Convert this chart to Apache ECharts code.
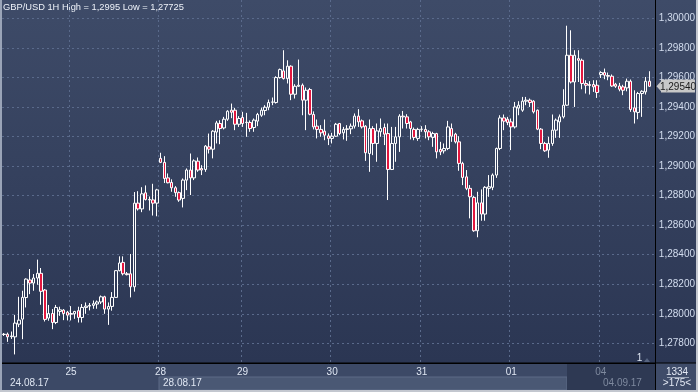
<!DOCTYPE html>
<html><head><meta charset="utf-8">
<script src="https://cdn.jsdelivr.net/npm/echarts@6.0.0/dist/echarts.min.js"></script>
<style>
html,body{margin:0;padding:0;background:#2c3852;}
#c{width:698px;height:392px;background:linear-gradient(180deg,#3e4b68 0px,#2b3653 363px,#2b3653 392px);}
</style>
</head><body><div id="c"></div>
<script>
// ---- data ----
const titleText = 'GBP/USD 1H High = 1,2995 Low = 1,27725';
const days = ['24','25','28','29','30','31','01','04'];
const months = ['08','08','08','08','08','08','09','09'];
const barsPerDay = [18,24,22,24,24,24,24,14];
const firstHour = [6,0,2,0,0,0,0,0];
const yTicks = [1.278,1.280,1.282,1.284,1.286,1.288,1.290,1.292,1.294,1.296,1.298,1.300];

const open = [
1.27860,1.27862,1.27845,1.27844,1.27930,1.27964,1.28110,1.28229,1.28208,1.28242,
1.28274,1.28161,1.27971,1.28002,1.27941,1.28016,1.28025,1.28011,1.28002,1.28000,
1.28021,1.27975,1.28043,1.28052,1.28057,1.28066,1.28080,1.28115,1.28032,1.28050,
1.28111,1.28292,1.28348,1.28271,1.28271,1.28183,1.28749,1.28710,1.28819,1.28774,
1.28771,1.28749,1.29052,1.29025,1.28920,1.28889,1.28853,1.28820,1.28781,1.28905,
1.28973,1.28920,1.29033,1.28984,1.28977,1.29130,1.29114,1.29230,1.29288,1.29258,
1.29317,1.29378,1.29378,1.29283,1.29329,1.29295,1.29295,1.29261,1.29304,1.29344,
1.29376,1.29398,1.29432,1.29430,1.29599,1.29644,1.29592,1.29676,1.29486,1.29540,
1.29547,1.29446,1.29518,1.29349,1.29270,1.29248,1.29236,1.29204,1.29187,1.29202,
1.29288,1.29225,1.29248,1.29252,1.29270,1.29338,1.29306,1.29270,1.29085,1.29254,
1.29153,1.29232,1.29261,1.29220,1.28977,1.29153,1.29198,1.29338,1.29333,1.29299,
1.29248,1.29187,1.29248,1.29248,1.29232,1.29194,1.29220,1.29112,1.29103,1.29119,
1.29254,1.29216,1.29164,1.29018,1.28927,1.28849,1.28788,1.28562,1.28751,1.28675,
1.28849,1.28856,1.28939,1.29119,1.29326,1.29317,1.29299,1.29265,1.29392,1.29378,
1.29439,1.29446,1.29439,1.29378,1.29250,1.29153,1.29108,1.29153,1.29243,1.29299,
1.29333,1.29412,1.29750,1.29569,1.29727,1.29716,1.29559,1.29552,1.29552,1.29547,
1.29619,1.29633,1.29613,1.29608,1.29554,1.29542,1.29536,1.29529,1.29574,1.29394,
1.29363,1.29491,1.29502,1.29574
];
const close = [
1.27862,1.27844,1.27850,1.27937,1.27957,1.28111,1.28235,1.28208,1.28242,1.28274,
1.28152,1.27962,1.28002,1.27941,1.28043,1.28027,1.28002,1.27991,1.27997,1.28016,
1.27975,1.28043,1.28052,1.28057,1.28068,1.28080,1.28115,1.28032,1.28050,1.28111,
1.28292,1.28344,1.28271,1.28265,1.28183,1.28749,1.28710,1.28812,1.28774,1.28771,
1.28749,1.28839,1.29025,1.28916,1.28887,1.28853,1.28820,1.28770,1.28905,1.28973,
1.28920,1.29035,1.28973,1.28973,1.29135,1.29114,1.29236,1.29292,1.29254,1.29317,
1.29371,1.29364,1.29283,1.29322,1.29288,1.29297,1.29254,1.29311,1.29349,1.29378,
1.29398,1.29430,1.29434,1.29599,1.29653,1.29592,1.29676,1.29486,1.29540,1.29547,
1.29446,1.29513,1.29351,1.29265,1.29248,1.29225,1.29209,1.29187,1.29202,1.29283,
1.29220,1.29248,1.29252,1.29270,1.29338,1.29299,1.29265,1.29090,1.29254,1.29153,
1.29238,1.29254,1.29216,1.28977,1.29153,1.29198,1.29338,1.29333,1.29288,1.29254,
1.29194,1.29248,1.29250,1.29232,1.29198,1.29220,1.29096,1.29096,1.29119,1.29265,
1.29202,1.29164,1.29018,1.28923,1.28849,1.28792,1.28562,1.28751,1.28675,1.28856,
1.28860,1.28939,1.29119,1.29326,1.29304,1.29295,1.29265,1.29400,1.29412,1.29439,
1.29446,1.29430,1.29367,1.29250,1.29153,1.29103,1.29153,1.29243,1.29311,1.29333,
1.29412,1.29750,1.29569,1.29750,1.29716,1.29559,1.29547,1.29545,1.29536,1.29498,
1.29633,1.29615,1.29608,1.29542,1.29540,1.29520,1.29513,1.29574,1.29383,1.29367,
1.29491,1.29506,1.29574,1.29540
];
const low = [
1.27850,1.27810,1.27830,1.27725,1.27910,1.27828,1.28043,1.28133,1.28156,1.28197,
1.28061,1.27948,1.27953,1.27896,1.27930,1.27986,1.27957,1.27955,1.27955,1.27966,
1.27941,1.27941,1.28000,1.28023,1.28034,1.28034,1.28066,1.28000,1.27925,1.28021,
1.28108,1.28287,1.28260,1.28260,1.28111,1.28150,1.28699,1.28688,1.28767,1.28699,
1.28665,1.28660,1.29020,1.28885,1.28883,1.28826,1.28792,1.28758,1.28720,1.28837,
1.28804,1.28905,1.28961,1.28939,1.28961,1.29085,1.29052,1.29153,1.29148,1.29248,
1.29306,1.29324,1.29243,1.29265,1.29265,1.29198,1.29232,1.29232,1.29270,1.29333,
1.29344,1.29378,1.29412,1.29423,1.29592,1.29586,1.29559,1.29446,1.29457,1.29536,
1.29344,1.29243,1.29344,1.29248,1.29187,1.29198,1.29175,1.29142,1.29153,1.29198,
1.29209,1.29180,1.29171,1.29216,1.29254,1.29265,1.29254,1.29035,1.28961,1.29074,
1.29029,1.29198,1.29142,1.28770,1.28973,1.29029,1.29096,1.29254,1.29254,1.29180,
1.29175,1.29171,1.29232,1.29187,1.29175,1.29130,1.29052,1.29074,1.29085,1.29108,
1.29164,1.29153,1.28968,1.28871,1.28837,1.28646,1.28555,1.28518,1.28630,1.28630,
1.28792,1.28837,1.28920,1.29108,1.29243,1.29277,1.29108,1.29254,1.29344,1.29367,
1.29412,1.29400,1.29356,1.29243,1.29114,1.29096,1.29056,1.29137,1.29191,1.29191,
1.29322,1.29407,1.29559,1.29400,1.29569,1.29520,1.29491,1.29484,1.29502,1.29461,
1.29596,1.29588,1.29581,1.29536,1.29529,1.29506,1.29480,1.29506,1.29367,1.29288,
1.29317,1.29333,1.29484,1.29536
];
const high = [
1.27870,1.27873,1.27880,1.27993,1.28115,1.28156,1.28240,1.28303,1.28269,1.28367,
1.28310,1.28167,1.28060,1.28032,1.28060,1.28048,1.28032,1.28020,1.28052,1.28020,
1.28048,1.28066,1.28077,1.28073,1.28090,1.28090,1.28124,1.28122,1.28077,1.28147,
1.28295,1.28389,1.28389,1.28283,1.28405,1.28824,1.28830,1.28857,1.28869,1.28794,
1.28880,1.28846,1.29090,1.29067,1.28950,1.28910,1.28864,1.28828,1.28916,1.28984,
1.29085,1.29045,1.29058,1.29006,1.29142,1.29220,1.29243,1.29306,1.29310,1.29333,
1.29378,1.29423,1.29394,1.29338,1.29367,1.29360,1.29309,1.29322,1.29360,1.29396,
1.29412,1.29450,1.29464,1.29608,1.29660,1.29784,1.29716,1.29682,1.29554,1.29721,
1.29559,1.29532,1.29529,1.29370,1.29315,1.29277,1.29315,1.29221,1.29225,1.29292,
1.29292,1.29265,1.29277,1.29288,1.29356,1.29385,1.29315,1.29277,1.29315,1.29270,
1.29288,1.29322,1.29288,1.29288,1.29265,1.29265,1.29351,1.29373,1.29351,1.29306,
1.29261,1.29259,1.29270,1.29277,1.29243,1.29232,1.29225,1.29164,1.29153,1.29306,
1.29288,1.29225,1.29202,1.29029,1.28973,1.28871,1.28797,1.28826,1.28842,1.28864,
1.28939,1.28950,1.29125,1.29344,1.29349,1.29333,1.29322,1.29434,1.29439,1.29468,
1.29468,1.29457,1.29446,1.29383,1.29257,1.29164,1.29198,1.29349,1.29322,1.29349,
1.29520,1.29950,1.29919,1.29784,1.29784,1.29727,1.29581,1.29575,1.29581,1.29581,
1.29642,1.29660,1.29633,1.29620,1.29563,1.29563,1.29550,1.29592,1.29586,1.29513,
1.29502,1.29513,1.29603,1.29642
];

// ---- build ----
const FONT = '"Liberation Sans",Arial,sans-serif';
const categories = [];
const dayStarts = new Set();
days.forEach((d, k) => {
  dayStarts.add(categories.length);
  for (let h = 0; h < barsPerDay[k]; h++) {
    categories.push(d + '.' + months[k] + ' ' + String(firstHour[k] + h).padStart(2, '0') + ':00');
  }
});
categories.push(''); // right margin slot
const candles = open.map((o, i) => [o, close[i], low[i], high[i]]);
const lastClose = close[close.length - 1];
const fmtPrice = v => v.toFixed(5).replace('.', ',');
const isDayTick = idx => idx > 0 && dayStarts.has(idx);
const dateLabel = k => days[k] + '.' + months[k] + '.17';

const chart = echarts.init(document.getElementById('c'), null, {renderer: 'canvas', width: 698, height: 392});
chart.setOption({
  animation: false,
  backgroundColor: 'transparent',
  title: {
    text: titleText, left: 3, top: 3, padding: 0,
    textStyle: {color: '#eef2f9', fontSize: 9.3, fontWeight: 'normal', fontFamily: FONT}
  },
  grid: {left: 2, right: 43, top: 0, bottom: 29, containLabel: false},
  xAxis: {
    type: 'category', data: categories, boundaryGap: true, z: 10,
    axisLine: {show: true, lineStyle: {color: '#000', width: 1}},
    axisTick: {show: false},
    axisLabel: {
      interval: (idx) => isDayTick(idx),
      formatter: v => v.slice(0, 2),
      color: (v) => (v && v.slice(0, 2) === days[days.length - 1]) ? '#7e899e' : '#dfe6f2',
      fontSize: 10, fontFamily: FONT, margin: 4
    },
    splitLine: {show: true, interval: (idx) => isDayTick(idx), lineStyle: {color: '#5a6a8b', type: [2, 3], width: 1}}
  },
  yAxis: {
    type: 'value', position: 'right', min: 1.27667, max: 1.30124, z: 10,
    axisLine: {show: true, lineStyle: {color: '#000', width: 1}},
    axisTick: {show: false, customValues: yTicks},
    axisLabel: {customValues: yTicks, formatter: fmtPrice, color: '#d3ddef', fontSize: 10, fontFamily: FONT, margin: 4},
    splitLine: {show: true, lineStyle: {color: '#5a6a8b', type: [2, 3], width: 1}}
  },
  series: [{
    type: 'candlestick', data: candles, barWidth: 3, z: 12,
    itemStyle: {
      color: 'rgba(0,0,0,0)', color0: '#e3173f',
      borderColor: '#ffffff', borderColor0: '#ffffff', borderColorDoji: '#ffffff', borderWidth: 1
    }
  }]
});

const py = chart.convertToPixel({yAxisIndex: 0}, lastClose);
const txt = (x, y, s, color, align) => ({
  type: 'text', x: x, y: y, z: 20,
  style: {text: s, fill: color, font: '10px ' + FONT, textAlign: align || 'left', textVerticalAlign: 'middle'}
});
chart.setOption({
  graphic: {elements: [
    {type: 'rect', shape: {x: 0, y: 363, width: 698, height: 29}, style: {fill: '#3c4966'}, z: 1},
    {type: 'rect', shape: {x: 159, y: 377, width: 408, height: 13}, style: {fill: '#4a5874', stroke: '#5c6a86', lineWidth: 1}, z: 2},
    {type: 'rect', shape: {x: 567, y: 363, width: 88, height: 27}, style: {fill: '#2e3953'}, z: 2},
    {type: 'rect', shape: {x: 655, y: 363, width: 43, height: 27}, style: {fill: '#3f4c69'}, z: 2},
    {type: 'line', shape: {x1: 0, y1: 363, x2: 698, y2: 363}, style: {stroke: '#000', lineWidth: 1}, z: 21},
    {type: 'line', shape: {x1: 655.5, y1: 0, x2: 655.5, y2: 390}, style: {stroke: '#000', lineWidth: 1}, z: 21},
    txt(10, 383, dateLabel(0), '#dfe6f2'),
    txt(163, 383, dateLabel(2), '#dfe6f2'),
    txt(603, 383, dateLabel(days.length - 1), '#7e899e'),
    txt(677, 372, String(1334), '#e3e9f4', 'center'),
    {type: 'line', shape: {x1: 667, y1: 377.5, x2: 689, y2: 377.5}, style: {stroke: '#9aa4b6', lineWidth: 1}, z: 20},
    txt(677, 383, '>' + (categories.length) + '<', '#e3e9f4', 'center'),
    txt(639.5, 358, '1', '#dfe6f2', 'center'),
    {type: 'polygon', shape: {points: [[644, 362], [647, 358], [650, 362]]}, style: {fill: '#566480'}, z: 20},
    {type: 'polygon', shape: {points: [[656.5, py], [661, py - 5], [661, py + 5]]}, style: {fill: '#c8c8c8'}, z: 20},
    {type: 'rect', shape: {x: 661, y: Math.round(py) - 6.5, width: 34, height: 13}, style: {fill: '#c8c8c8'}, z: 20},
    txt(678, py + 0.5, fmtPrice(lastClose), '#1a1a1a', 'center'),
    {type: 'rect', shape: {x: 0, y: 0, width: 2, height: 392}, style: {fill: '#9aa4b7'}, z: 22},
    {type: 'rect', shape: {x: 0, y: 390, width: 698, height: 2}, style: {fill: '#c3c7cf'}, z: 22},
    {type: 'rect', shape: {x: 696, y: 0, width: 2, height: 392}, style: {fill: '#c3c7cf'}, z: 22}
  ]}
});
</script>
</body></html>
